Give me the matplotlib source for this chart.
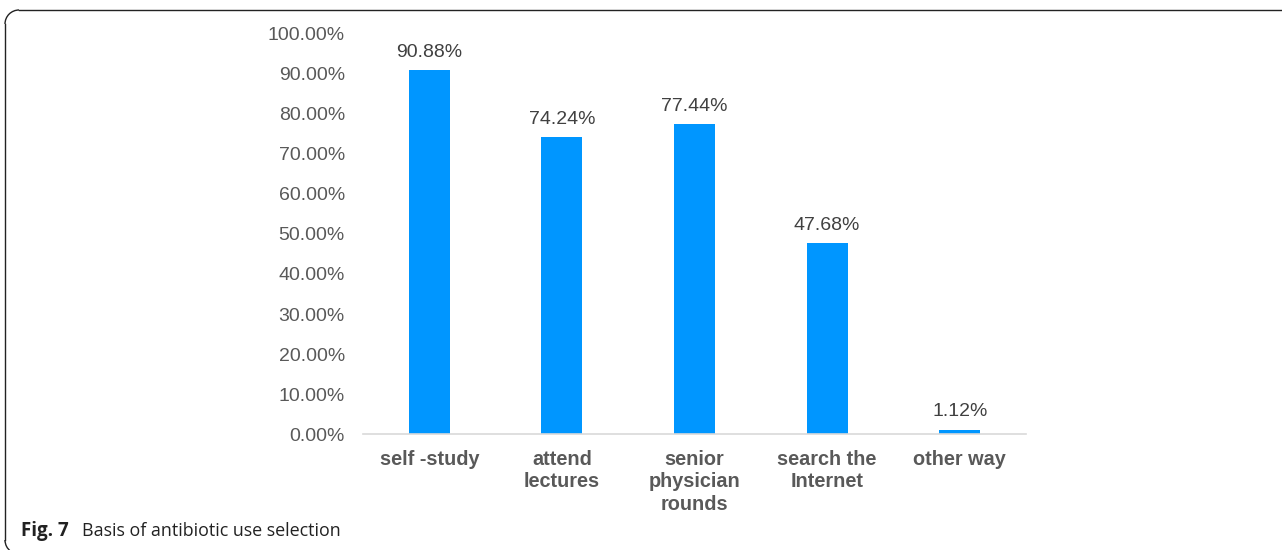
import matplotlib.pyplot as plt
from matplotlib.lines import Line2D
from matplotlib.patches import Arc

categories = ['self -study', 'attend\nlectures', 'senior\nphysician\nrounds',
              'search the\nInternet', 'other way']
shares = [0.9088, 0.7424, 0.7744, 0.4768, 0.0112]

BAR_COLOR = '#0096FF'
TICK_COLOR = '#595959'
VALUE_COLOR = '#404040'


def main():
    plt.rcParams['font.family'] = ['Liberation Sans', 'DejaVu Sans']
    fig = plt.figure(figsize=(12.82, 5.5), dpi=100)
    ax = fig.add_axes([363 / 1282, 0.2109, 0.5172, 0.7273])

    x = range(len(categories))
    bars = ax.bar(x, shares, width=0.31, color=BAR_COLOR, zorder=2)
    for rect, val in zip(bars, shares):
        ax.annotate(f'{val * 100:.2f}%',
                    (rect.get_x() + rect.get_width() / 2, val),
                    xytext=(0, 6.5), textcoords='offset points',
                    ha='center', va='bottom', fontsize=14, color=VALUE_COLOR)

    ax.set_xlim(-0.5, 4.5)
    ax.set_ylim(0, 1.0)
    ax.set_yticks([i / 10 for i in range(11)])
    ax.set_yticklabels([f'{i * 10:.2f}%' for i in range(11)])
    ax.set_xticks(list(x))
    ax.set_xticklabels(categories, fontweight='bold', linespacing=1.22)
    ax.tick_params(axis='y', length=0, pad=13, labelsize=14, labelcolor=TICK_COLOR)
    ax.tick_params(axis='x', length=0, pad=11.5, labelsize=14.3, labelcolor=TICK_COLOR)
    for side in ['top', 'right', 'left']:
        ax.spines[side].set_visible(False)
    ax.spines['bottom'].set_color('#D9D9D9')
    ax.spines['bottom'].set_linewidth(1.2)

    # rounded frame around the figure, open at the right and bottom
    W, H = 1282, 550
    r = 14
    frame = dict(color='#222222', linewidth=1.0, transform=None)
    fig.lines.append(Line2D([5 + r, W], [H - 10, H - 10], **frame))
    fig.lines.append(Line2D([5, 5], [H - 10 - r, 10], **frame))
    fig.patches.append(Arc((5 + r, H - 10 - r), 2 * r, 2 * r, theta1=90, theta2=180,
                           color='#222222', linewidth=1.0, transform=None))
    fig.patches.append(Arc((5 + r, 10), 2 * r, 2 * r, theta1=180, theta2=235,
                           color='#222222', linewidth=1.0, transform=None))

    fig.text(21 / W, 1 - 531 / H, 'Fig. 7', fontsize=13.5, fontweight='bold',
             family=['Open Sans', 'DejaVu Sans'], va='center', color='#222222')
    fig.text(82 / W, 1 - 531 / H, 'Basis of antibiotic use selection', fontsize=12.9,
             family=['Open Sans', 'DejaVu Sans'], va='center', color='#222222')

    fig.savefig('out.png', dpi=100)


if __name__ == '__main__':
    main()
